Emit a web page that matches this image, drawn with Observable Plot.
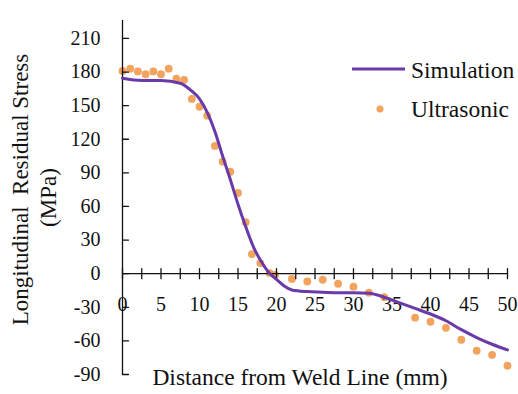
<!DOCTYPE html>
<html><head><meta charset="utf-8">
<script src="https://cdn.jsdelivr.net/npm/d3@7"></script>
<script src="https://cdn.jsdelivr.net/npm/@observablehq/plot@0.6"></script>
<style>
body{margin:0;background:#fff;}
#wrap{position:relative;width:518px;height:394px;font-family:"Liberation Serif","Times New Roman",serif;color:#111;}
.leg{position:absolute;font-size:23.5px;line-height:24px;white-space:nowrap;}
</style></head><body><div id="wrap"></div>
<script>
// Simulation (purple line)
const simX = [0, 2.5, 5, 7.5, 9, 10, 11, 12, 13, 14, 15, 16, 17, 18, 19, 20, 21, 22, 24, 26, 28, 30, 32, 34, 36, 38, 40, 42, 44, 46, 48, 50];
const simY = [174.5, 172.5, 172.5, 170, 163, 156, 144, 127, 105, 84, 62, 42, 24, 11, 1, -5, -11, -14.5, -16, -16.5, -17, -17, -17.5, -21, -26, -31, -36, -42, -50, -57, -63, -68];
// Ultrasonic (orange dots)
const usX = [0, 1, 2, 3, 4, 5, 6, 7, 8, 9, 10, 11, 12, 13, 14, 15, 16, 16.8, 17.9, 19.1, 19.8, 22, 24, 26, 28, 30, 32, 34, 38, 40, 42, 44, 46, 48, 50];
const usY = [181, 183, 180.5, 178, 180.5, 178, 183, 174, 173, 156, 149, 141, 114, 100, 91, 72, 46, 17.5, 9.5, 0.5, -1, -4.7, -7, -5.4, -9, -11.6, -17, -21, -39.3, -42.9, -48.3, -59, -68.8, -72.4, -82.2];
// Axis ticks
const xTicks = [0, 5, 10, 15, 20, 25, 30, 35, 40, 45, 50];
const xMinorTicks = [0, 2.5, 5, 7.5, 10, 12.5, 15, 17.5, 20, 22.5, 25, 27.5, 30, 32.5, 35, 37.5, 40, 42.5, 45, 47.5, 50];
const yTicks = [-90, -60, -30, 0, 30, 60, 90, 120, 150, 180, 210];
const xLabel = "Distance from Weld Line (mm)";
const yLabel1 = "Longitudinal  Residual Stress";
const yLabel2 = "(MPa)";
const seriesNames = ["Simulation", "Ultrasonic"];
const lineColor = "#6a3aa8", dotColor = "#f2a35e";

const sim = simX.map((x, i) => ({x, y: simY[i]}));
const us = usX.map((x, i) => ({x, y: usY[i]}));
const tickShape = {draw(ctx, l) { ctx.moveTo(0, 0); ctx.lineTo(0, -l); }};
const font = '"Liberation Serif", "Times New Roman", serif';

const plot = Plot.plot({
  width: 518, height: 394,
  marginLeft: 122, marginRight: 11, marginTop: 20, marginBottom: 20,
  x: {domain: [0, 50], axis: null},
  y: {domain: [-90, 226], axis: null},
  style: {fontFamily: font, background: "white", color: "#111"},
  marks: [
    Plot.dot(us, {x: "x", y: "y", r: 3.9, fill: dotColor}),
    Plot.ruleX([0], {stroke: "#111", strokeWidth: 1.3}),
    Plot.ruleY([0], {stroke: "#111", strokeWidth: 1.3}),
    Plot.vector(xMinorTicks, {x: d => d, y: 0, length: 10, anchor: "middle", shape: tickShape, stroke: "#111", strokeWidth: 1.3}),
    Plot.vector(yTicks, {x: 0, y: d => d, length: 6, rotate: 90, anchor: "start", shape: tickShape, stroke: "#111", strokeWidth: 1.3}),
    Plot.text(yTicks, {frameAnchor: "left", y: d => d, text: d => String(d), textAnchor: "end", dx: -22, fontSize: 20, fill: "#111"}),
    Plot.text(xTicks, {x: d => d, y: 0, text: d => String(d), dy: 31, fontSize: 20, fill: "#111"}),
    Plot.line(sim, {x: "x", y: "y", stroke: lineColor, strokeWidth: 3, curve: "monotone-x"}),
    Plot.text([xLabel], {frameAnchor: "bottom", text: d => d, textAnchor: "middle", dy: 10, dx: -15, fontSize: 23.5, fill: "#111"}),
    Plot.text([yLabel1], {frameAnchor: "left", text: d => d, textAnchor: "middle", rotate: -90, dx: -102, dy: -8, fontSize: 23, fill: "#111"}),
    Plot.text([yLabel2], {frameAnchor: "left", text: d => d, textAnchor: "middle", rotate: -90, dx: -74, dy: 0, fontSize: 23, fill: "#111"})
  ]
});
const wrap = document.getElementById("wrap");
wrap.appendChild(plot);

// Legend
const leg = document.createElement("div");
leg.innerHTML = `
<svg style="position:absolute;left:350px;top:60px" width="60" height="60">
  <line x1="2" y1="9" x2="55" y2="9" stroke="${lineColor}" stroke-width="3"/>
  <circle cx="30" cy="49" r="3.5" fill="${dotColor}"/>
</svg>
<div class="leg" style="left:411px;top:58px">${seriesNames[0]}</div>
<div class="leg" style="left:411px;top:97px">${seriesNames[1]}</div>`;
wrap.appendChild(leg);
</script>
</body></html>
